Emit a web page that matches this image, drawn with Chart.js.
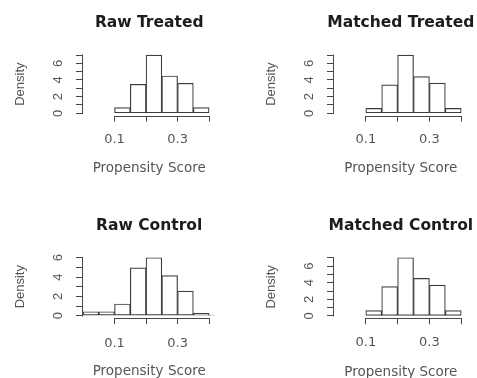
<!DOCTYPE html>
<html><head><meta charset="utf-8">
<script src="https://cdn.jsdelivr.net/npm/chart.js@4.4.1/dist/chart.umd.min.js"></script>
<style>
html,body{margin:0;padding:0;background:#fff;width:477px;height:378px;overflow:hidden;position:relative}
canvas{position:absolute}
</style></head><body>
<canvas id="c0"></canvas><canvas id="c1"></canvas><canvas id="c2"></canvas><canvas id="c3"></canvas>
<script>
// ---- data ----
const binMidsTreated = [0.125, 0.175, 0.225, 0.275, 0.325, 0.375];
const binMidsRawControl = [0.025, 0.075, 0.125, 0.175, 0.225, 0.275, 0.325, 0.375, 0.425];
const rawTreated = [0.67, 3.48, 7.0, 4.48, 3.6, 0.67];
const matchedTreated = [0.59, 3.42, 7.0, 4.4, 3.62, 0.59];
const rawControl = [0.41, 0.41, 1.21, 4.96, 6.0, 4.14, 2.55, 0.25, 0.04];
const matchedControl = [0.64, 3.52, 7.0, 4.52, 3.72, 0.64];
const xTickValues = [0.1, 0.2, 0.3, 0.4];
const xTickLabels = ['0.1', '', '0.3', ''];
const yTickValues7 = [0, 1, 2, 3, 4, 5, 6, 7];
const yTickLabels7 = ['0', '', '2', '', '4', '', '6', ''];
const yTickValues6 = [0, 1, 2, 3, 4, 5, 6];
const yTickLabels6 = ['0', '', '2', '', '4', '', '6'];
const titles = ['Raw Treated', 'Matched Treated', 'Raw Control', 'Matched Control'];
const xTitle = 'Propensity Score';
const yTitle = 'Density';

const axisColor = '#474747';
const textColor = '#555';

const panels = [
  {title: titles[0], mids: binMidsTreated, vals: rawTreated, yt: yTickValues7, yl: yTickLabels7,
   box: {left: 0, top: 0, w: 238, h: 185}, yW: 83, padR: 22.6, yMin: -0.28, yMax: 7.28,
   tPT: 13.9, tPB: 20.2, xH: 69.4, xTB: 8, xTP: 9.8, dPT: 12.2},
  {title: titles[1], mids: binMidsTreated, vals: matchedTreated, yt: yTickValues7, yl: yTickLabels7,
   box: {left: 238, top: 0, w: 239, h: 185}, yW: 96, padR: 9.4, yMin: -0.28, yMax: 7.28,
   tPT: 13.9, tPB: 20.2, xH: 69.4, xTB: 8, xTP: 9.8, dPT: 25.2},
  {title: titles[2], mids: binMidsRawControl, vals: rawControl, yt: yTickValues6, yl: yTickLabels6,
   box: {left: 0, top: 190, w: 238, h: 195}, yW: 83, padR: 22.6, yMin: -0.24, yMax: 6.24,
   tPT: 26.7, tPB: 20.1, xH: 67, xTB: 5, xTP: 11.6, dPT: 12.2},
  {title: titles[3], mids: binMidsTreated, vals: matchedControl, yt: yTickValues7, yl: yTickLabels7,
   box: {left: 238, top: 190, w: 239, h: 195}, yW: 96, padR: 9.4, yMin: -0.28, yMax: 7.28,
   tPT: 26.7, tPB: 20.1, xH: 66.7, xTB: 4.4, xTP: 10.4, dPT: 25.2}
];

const rAxes = {
  id: 'rAxes',
  afterLayout(chart) {
    const t = chart.titleBlock;
    if (t) { t.left -= 30; t.right += 30; }
  },
  afterDraw(chart) {
    const {ctx, chartArea} = chart;
    const x = chart.scales.x, y = chart.scales.y;
    ctx.save();
    ctx.strokeStyle = axisColor;
    ctx.lineWidth = 1;
    const yv = y.ticks.map(t => t.value);
    const lx = Math.round(chartArea.left) - 0.5;
    ctx.beginPath();
    ctx.moveTo(lx, Math.round(y.getPixelForValue(yv[0])) + 0.5);
    ctx.lineTo(lx, Math.round(y.getPixelForValue(yv[yv.length - 1])) - 0.5);
    ctx.stroke();
    const xv = x.ticks.map(t => t.value);
    const by = Math.round(chartArea.bottom) + 0.5;
    ctx.beginPath();
    ctx.moveTo(Math.round(x.getPixelForValue(xv[0])) - 0.5, by);
    ctx.lineTo(Math.round(x.getPixelForValue(xv[xv.length - 1])) + 0.5, by);
    ctx.stroke();
    ctx.restore();
  }
};

panels.forEach((p, i) => {
  const cv = document.getElementById('c' + i);
  cv.style.left = p.box.left + 'px';
  cv.style.top = p.box.top + 'px';
  cv.style.width = p.box.w + 'px';
  cv.style.height = p.box.h + 'px';
  cv.width = p.box.w; cv.height = p.box.h;
  new Chart(cv, {
    type: 'bar',
    data: {
      datasets: [{
        data: p.mids.map((m, k) => ({x: m, y: p.vals[k]})),
        backgroundColor: '#ffffff',
        borderColor: '#3d3d3d',
        borderWidth: 1.2,
        borderSkipped: false,
        barPercentage: 1,
        categoryPercentage: 1
      }]
    },
    options: {
      responsive: false,
      animation: false,
      devicePixelRatio: 1,
      layout: {padding: {left: 0, right: p.padR, top: 0, bottom: 0}},
      plugins: {
        legend: {display: false},
        tooltip: {enabled: false},
        title: {
          display: true, text: p.title, fullSize: false, color: '#1c1c1c',
          font: {family: 'DejaVu Sans', size: 15.5, weight: 'bold', lineHeight: 1.2},
          padding: {top: p.tPT, bottom: p.tPB}
        }
      },
      scales: {
        x: {
          type: 'linear', position: 'bottom', min: 0, max: 0.42, offset: false,
          afterBuildTicks: s => { s.ticks = xTickValues.map(v => ({value: v})); },
          afterFit: s => { s.height = p.xH; s.paddingLeft = 0; s.paddingRight = 0; },
          ticks: {
            autoSkip: false, maxRotation: 0, minRotation: 0, padding: p.xTP, color: textColor,
            font: {family: 'DejaVu Sans', size: 13},
            callback: (v, idx) => xTickLabels[idx]
          },
          grid: {offset: false, drawOnChartArea: false, drawTicks: true, tickLength: 6, color: axisColor, lineWidth: 1},
          border: {display: false},
          title: {display: true, text: xTitle, color: textColor,
            font: {family: 'DejaVu Sans', size: 13.5, lineHeight: 1.2}, padding: {top: 0, bottom: p.xTB}}
        },
        y: {
          type: 'linear', position: 'left', min: p.yMin, max: p.yMax,
          afterBuildTicks: s => { s.ticks = p.yt.map(v => ({value: v})); },
          afterFit: s => { s.width = p.yW; s.paddingTop = 0; s.paddingBottom = 0; },
          ticks: {
            autoSkip: false, minRotation: 90, maxRotation: 90, crossAlign: 'center', padding: 13.5,
            color: textColor, font: {family: 'Liberation Sans', size: 13},
            callback: (v, idx) => p.yl[idx]
          },
          grid: {offset: false, drawOnChartArea: false, drawTicks: true, tickLength: 7, color: axisColor, lineWidth: 1},
          border: {display: false},
          title: {display: true, text: yTitle, color: textColor,
            font: {family: 'Liberation Sans', size: 13, lineHeight: 1.2}, padding: {top: p.dPT, bottom: 0}}
        }
      }
    },
    plugins: [rAxes]
  });
});
</script>
</body></html>
